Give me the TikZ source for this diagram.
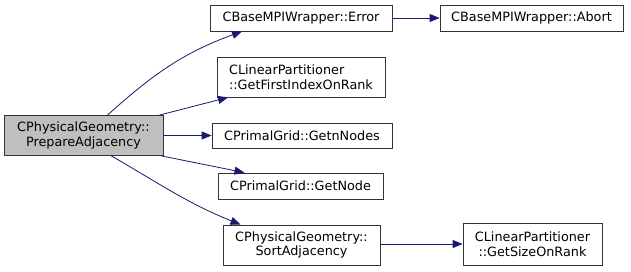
\documentclass[tikz,border=0pt]{standalone}
\usepackage{fontspec}
\setmainfont{DejaVu Sans}
\usepackage{xcolor}
\usepackage{tikz}
\usetikzlibrary{arrows.meta}
\definecolor{edgeblue}{HTML}{191970}
\definecolor{fngray}{HTML}{BFBFBF}

\begin{document}
\begin{tikzpicture}[x=1pt, y=-1pt,
    every node/.style={font=\fontsize{12.8}{14.5}\selectfont, inner sep=0pt, align=center},
    fn/.style={draw=black!80, line width=0.8pt, fill=white, rectangle},
    call/.style={draw=edgeblue, line width=0.8pt, -{Triangle[length=10pt, width=8pt]}}]
  \useasboundingbox (0,0) rectangle (631,271);
  % caller
  \node[fn, fill=fngray, minimum width=159pt, minimum height=40pt] (prep) at (83.5,135.5) {CPhysicalGeometry::\\PrepareAdjacency};
  % callees
  \node[fn, minimum width=182pt, minimum height=26pt] (err) at (301,18) {CBaseMPIWrapper::Error};
  \node[fn, minimum width=168pt, minimum height=40pt, align=left] (first) at (301,77) {CLinearPartitioner\\::GetFirstIndexOnRank};
  \node[fn, minimum width=180pt, minimum height=25pt] (nnodes) at (302,135.5) {CPrimalGrid::GetnNodes};
  \node[fn, minimum width=165pt, minimum height=26pt] (getnode) at (300.5,186) {CPrimalGrid::GetNode};
  \node[fn, minimum width=157pt, minimum height=40pt] (sort) at (301.5,245) {CPhysicalGeometry::\\SortAdjacency};
  \node[fn, minimum width=183pt, minimum height=26pt] (abort) at (531.5,18) {CBaseMPIWrapper::Abort};
  \node[fn, minimum width=139pt, minimum height=42pt] (size) at (532.5,244) {CLinearPartitioner\\::GetSizeOnRank};
  % calls
  \draw[call] ([xshift=24pt]prep.north) to[out=42, in=200] ([xshift=-59pt]err.south);
  \draw[call] ([xshift=-4pt]prep.north east) -- ([xshift=-73pt]first.south);
  \draw[call] (prep.east) -- (nnodes.west);
  \draw[call] ([xshift=-2pt]prep.south east) -- ([xshift=-56pt]getnode.north);
  \draw[call] ([xshift=-52pt]prep.south east) to[out=-30, in=158] ([xshift=-61pt]sort.north);
  \draw[call] (err.east) -- (abort.west);
  \draw[call] (sort.east |- size.west) -- (size.west);
\end{tikzpicture}
\end{document}
